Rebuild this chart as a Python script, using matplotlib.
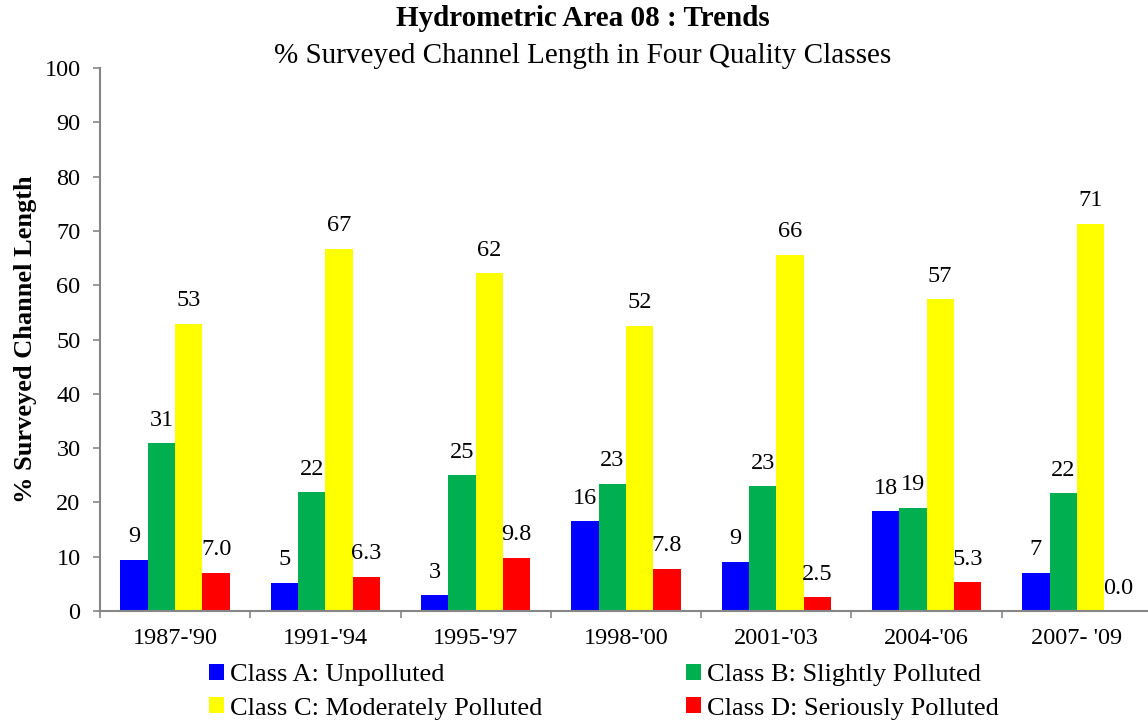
import matplotlib
matplotlib.use("Agg")
import matplotlib.pyplot as plt
import numpy as np

categories = ["1987-'90", "1991-'94", "1995-'97", "1998-'00", "2001-'03", "2004-'06", "2007- '09"]
class_a = [9.4, 5.2, 2.9, 16.5, 9.1, 18.4, 7.0]
class_b = [30.9, 21.9, 25.0, 23.4, 23.0, 19.0, 21.7]
class_c = [52.9, 66.7, 62.2, 52.5, 65.6, 57.4, 71.3]
class_d = [7.0, 6.3, 9.8, 7.8, 2.5, 5.3, 0.0]
series_names = ["Class A: Unpolluted", "Class B: Slightly Polluted",
                "Class C: Moderately Polluted", "Class D: Seriously Polluted"]
colors = ["#0000FF", "#00B050", "#FFFF00", "#FF0000"]
fmts = ["{:.0f}", "{:.0f}", "{:.0f}", "{:.1f}"]

plt.rcParams['font.family'] = ['Liberation Serif', 'DejaVu Serif']

W, H = 1148, 722
fig = plt.figure(figsize=(W / 100, H / 100), dpi=100)
left, right, top, bottom = 100, 1152, 68, 611
ax = fig.add_axes([left / W, 1 - bottom / H, (right - left) / W, (bottom - top) / H])

x = np.arange(len(categories))
bw = 0.182
series = [class_a, class_b, class_c, class_d]
handles = []
for i, (vals, c, f) in enumerate(zip(series, colors, fmts)):
    pos = x + (i - 1.5) * bw
    b = ax.bar(pos, vals, width=bw, color=c, label=series_names[i])
    handles.append(b)
    for px, v in zip(pos, vals):
        ax.annotate(f.format(v), (px, v), xytext=(0, 9), textcoords='offset points',
                    ha='center', va='bottom', fontsize=17.5)

ax.set_xlim(-0.5, len(categories) - 0.5)
ax.set_ylim(0, 100)
ax.set_yticks(range(0, 101, 10))
ax.set_xticks(np.arange(len(categories) + 1) - 0.5, minor=False)
ax.set_xticklabels([])
ax.set_xticks(x, minor=True)
ax.set_xticklabels(categories, minor=True)
ax.tick_params(axis='x', which='minor', length=0, labelsize=17.5, pad=12)
ax.tick_params(axis='x', which='major', length=5, color='#868686', width=1.2)
ax.tick_params(axis='y', labelsize=17.5, length=5, pad=9, color='#868686', width=1.2)
for s in ['top', 'right']:
    ax.spines[s].set_visible(False)
for s in ['left', 'bottom']:
    ax.spines[s].set_color('#868686')
    ax.spines[s].set_linewidth(1.5)

ax.set_ylabel("% Surveyed Channel Length", fontsize=19, fontweight='bold', labelpad=5)

fig.text(583 / W, 1 - 19 / H, "Hydrometric Area 08 : Trends", ha='center', va='center',
         fontsize=21, fontweight='bold')
fig.text(583 / W, 1 - 56 / H, "% Surveyed Channel Length in Four Quality Classes",
         ha='center', va='center', fontsize=21)

order = [0, 2, 1, 3]
leg = fig.legend(handles=[handles[k] for k in order], labels=[series_names[k] for k in order],
                 ncol=2, loc='upper left',
                 bbox_to_anchor=(209 / W, 1 - 664 / H), frameon=False, fontsize=19,
                 handlelength=0.55, handleheight=0.55, handletextpad=0.25,
                 columnspacing=5.45, labelspacing=0.42, borderaxespad=0, borderpad=0)

fig.savefig("out.png", dpi=100)
